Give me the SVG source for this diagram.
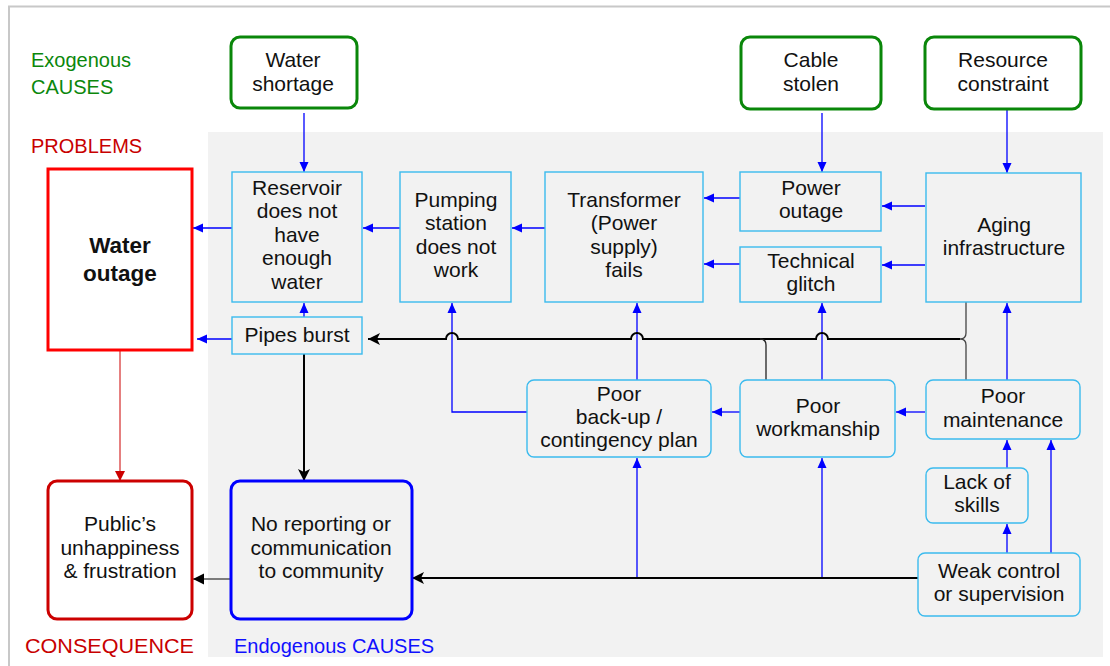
<svg xmlns="http://www.w3.org/2000/svg" width="1110" height="666" viewBox="0 0 1110 666">
  <style>
    text { font-family: "Liberation Sans", Arial, sans-serif; font-size: 21px; fill: #111; text-anchor: middle; }
    .lbl { text-anchor: start; font-size: 20px; }
    .green { fill: #0b870b; }
    .red { fill: #c80000; }
    .blue { fill: #1010ff; }
    .exo { fill: #fff; stroke: #0a870a; stroke-width: 3; }
    .endo { fill: none; stroke: #3bbbee; stroke-width: 1.4; }
    .bold { font-weight: bold; font-size: 22.5px; }
    .cb { fill: none; stroke: #0000ff; stroke-width: 1.3; marker-end: url(#ab); }
    .ck { fill: none; stroke: #000; stroke-width: 2; }
  </style>
  <defs>
    <marker id="ab" markerUnits="userSpaceOnUse" markerWidth="12" markerHeight="12" refX="10" refY="5" orient="auto">
      <path d="M0,0.5 L10,5 L0,9.5 z" fill="#0000ff"/>
    </marker>
    <marker id="ak" markerUnits="userSpaceOnUse" markerWidth="14" markerHeight="14" refX="12" refY="6" orient="auto">
      <path d="M0,0 L12,6 L0,12 L3,6 z" fill="#000"/>
    </marker>
    <marker id="ag" markerUnits="userSpaceOnUse" markerWidth="14" markerHeight="14" refX="11" refY="5.5" orient="auto">
      <path d="M0,0 L11,5.5 L0,11 z" fill="#000"/>
    </marker>
    <marker id="ar" markerUnits="userSpaceOnUse" markerWidth="12" markerHeight="12" refX="10" refY="5" orient="auto">
      <path d="M0,0 L10,5 L0,10 z" fill="#cc0000"/>
    </marker>
  </defs>

  <!-- frame and the shaded area of internal causes -->
  <rect x="0" y="0" width="1110" height="666" fill="#fff"/>
  <path d="M9 666 V6.5 H1110" fill="none" stroke="#c8c8c8" stroke-width="2"/>
  <rect x="208" y="132" width="895" height="525" fill="#f2f2f2"/>

  <!-- section labels -->
  <text class="lbl green" x="31" y="67">Exogenous</text>
  <text class="lbl green" x="31" y="94">CAUSES</text>
  <text class="lbl red" x="31" y="153">PROBLEMS</text>
  <text class="lbl red" x="25" y="653" textLength="169" lengthAdjust="spacingAndGlyphs">CONSEQUENCE</text>
  <text class="lbl blue" x="234" y="653">Endogenous CAUSES</text>

  <!-- connectors -->
  <g id="connectors">
    <path class="cb" d="M304 113 V172"/>
    <path class="cb" d="M822 113 V172"/>
    <path class="cb" d="M1007 110 V173"/>
    <path class="cb" d="M925 206 H882"/>
    <path class="cb" d="M925 265 H882"/>
    <path class="cb" d="M740 198 H704"/>
    <path class="cb" d="M740 264 H704"/>
    <path class="cb" d="M545 228 H512"/>
    <path class="cb" d="M400 228 H363"/>
    <path class="cb" d="M232 228 H193"/>
    <path class="cb" d="M232 339 H197"/>
    <path class="cb" d="M304 317 V303"/>
    <path class="cb" d="M527 412 H452 V303"/>
    <path class="cb" d="M637 380 V303"/>
    <path class="cb" d="M822 380 V303"/>
    <path class="cb" d="M1007 380 V303"/>
    <path class="cb" d="M925 412 H896"/>
    <path class="cb" d="M740 412 H712"/>
    <path class="cb" d="M1007 468 V440"/>
    <path class="cb" d="M1007 553 V524"/>
    <path class="cb" d="M1051 553 V440"/>
    <path class="cb" d="M637 578 V458"/>
    <path class="cb" d="M822 578 V458"/>

    <!-- black flow with line hops over the blue links -->
    <path class="ck" marker-end="url(#ak)" d="M960 339 H828 A6 6 0 0 0 816 339 H643 A6 6 0 0 0 631 339 H458 A6 6 0 0 0 446 339 H368"/>
    <path fill="none" stroke="#444" stroke-width="1.3" d="M966 302 V333 Q966 339 960 339 M966 380 V345 Q966 339 960 339"/>
    <path fill="none" stroke="#222" stroke-width="1.3" d="M766 380 V345 Q766 339 760 339"/>
    <path class="ck" marker-end="url(#ak)" d="M304 354 V481"/>
    <path class="ck" marker-end="url(#ak)" d="M918 578 H412"/>
    <path fill="none" stroke="#555" stroke-width="1.5" marker-end="url(#ag)" d="M230 579 H193"/>
    <path fill="none" stroke="#cc0000" stroke-width="1" marker-end="url(#ar)" d="M120 350 V481"/>
  </g>

  <!-- exogenous causes -->
  <g id="water-shortage">
    <rect class="exo" x="231" y="37" width="126" height="71" rx="9"/>
    <text x="293" y="67">Water</text>
    <text x="293" y="91">shortage</text>
  </g>
  <g id="cable-stolen">
    <rect class="exo" x="741" y="37" width="140" height="72" rx="9"/>
    <text x="811" y="67">Cable</text>
    <text x="811" y="91">stolen</text>
  </g>
  <g id="resource-constraint">
    <rect class="exo" x="925" y="37" width="156" height="72" rx="9"/>
    <text x="1003" y="67">Resource</text>
    <text x="1003" y="91">constraint</text>
  </g>

  <!-- problems -->
  <g id="water-outage">
    <rect x="48" y="169" width="144" height="181" fill="#fff" stroke="#ff0000" stroke-width="3"/>
    <text class="bold" x="120" y="253">Water</text>
    <text class="bold" x="120" y="281">outage</text>
  </g>
  <g id="reservoir">
    <rect class="endo" x="232" y="172" width="130" height="130"/>
    <text x="297" y="195">Reservoir</text>
    <text x="297" y="218">does not</text>
    <text x="297" y="242">have</text>
    <text x="297" y="265">enough</text>
    <text x="297" y="289">water</text>
  </g>
  <g id="pipes-burst">
    <rect class="endo" x="232" y="317" width="130" height="37"/>
    <text x="297" y="342">Pipes burst</text>
  </g>
  <g id="pumping-station">
    <rect class="endo" x="400" y="172" width="111" height="130"/>
    <text x="456" y="207">Pumping</text>
    <text x="456" y="230">station</text>
    <text x="456" y="254">does not</text>
    <text x="456" y="277">work</text>
  </g>
  <g id="transformer">
    <rect class="endo" x="545" y="172" width="158" height="130"/>
    <text x="624" y="207">Transformer</text>
    <text x="624" y="230">(Power</text>
    <text x="624" y="254">supply)</text>
    <text x="624" y="277">fails</text>
  </g>
  <g id="power-outage">
    <rect class="endo" x="740" y="172" width="141" height="59"/>
    <text x="811" y="195">Power</text>
    <text x="811" y="218">outage</text>
  </g>
  <g id="technical-glitch">
    <rect class="endo" x="740" y="247" width="141" height="55"/>
    <text x="811" y="268">Technical</text>
    <text x="811" y="291">glitch</text>
  </g>
  <g id="aging-infrastructure">
    <rect class="endo" x="926" y="173" width="155" height="129"/>
    <text x="1004" y="232">Aging</text>
    <text x="1004" y="255">infrastructure</text>
  </g>

  <!-- endogenous causes -->
  <g id="poor-backup">
    <rect class="endo" x="527" y="380" width="184" height="77" rx="7"/>
    <text x="619" y="401">Poor</text>
    <text x="619" y="424">back-up /</text>
    <text x="619" y="447">contingency plan</text>
  </g>
  <g id="poor-workmanship">
    <rect class="endo" x="740" y="380" width="155" height="77" rx="7"/>
    <text x="818" y="413">Poor</text>
    <text x="818" y="436">workmanship</text>
  </g>
  <g id="poor-maintenance">
    <rect class="endo" x="926" y="380" width="154" height="59" rx="7"/>
    <text x="1003" y="403">Poor</text>
    <text x="1003" y="427">maintenance</text>
  </g>
  <g id="lack-of-skills">
    <rect class="endo" x="926" y="468" width="102" height="55" rx="7"/>
    <text x="977" y="489">Lack of</text>
    <text x="977" y="512">skills</text>
  </g>
  <g id="weak-control">
    <rect class="endo" x="918" y="553" width="162" height="63" rx="7"/>
    <text x="999" y="578">Weak control</text>
    <text x="999" y="601">or supervision</text>
  </g>
  <g id="no-reporting">
    <rect x="231" y="481" width="181" height="138" rx="9" fill="none" stroke="#0000ff" stroke-width="3"/>
    <text x="321" y="531">No reporting or</text>
    <text x="321" y="555">communication</text>
    <text x="321" y="578">to community</text>
  </g>

  <!-- consequence -->
  <g id="public-unhappiness">
    <rect x="48" y="481" width="144" height="138" rx="9" fill="#fff" stroke="#cc0000" stroke-width="3"/>
    <text x="120" y="531">Public’s</text>
    <text x="120" y="555">unhappiness</text>
    <text x="120" y="578">&amp; frustration</text>
  </g>
</svg>
